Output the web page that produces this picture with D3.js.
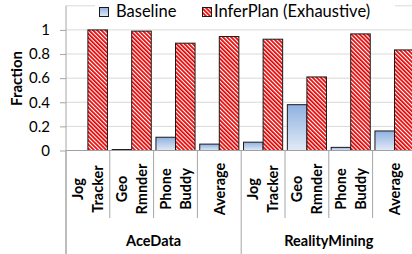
<!DOCTYPE html>
<html>
<head>
<meta charset="utf-8">
<script src="https://cdn.jsdelivr.net/npm/d3@7"></script>
<style>
  body { margin: 0; background: #fff; }
  svg { display: block; font-family: Lato, "Open Sans", sans-serif; }
</style>
</head>
<body>
<div id="chart"></div>
<script>
// data
const categories = [
    ['Jog', 'Tracker'], ['Geo', 'Rmnder'], ['Phone', 'Buddy'], ['Average'],
    ['Jog', 'Tracker'], ['Geo', 'Rmnder'], ['Phone', 'Buddy'], ['Average']
]
const groups = ['AceData', 'RealityMining']
const seriesNames = ['Baseline', 'InferPlan (Exhaustive)']
const baseline = [0, 0.008, 0.11, 0.053, 0.069, 0.38, 0.026, 0.162]
const inferplan = [1.0, 0.99, 0.89, 0.945, 0.923, 0.61, 0.967, 0.834]
const yTicks = [0, 0.2, 0.4, 0.6, 0.8, 1]

const width = 412
const height = 254

const svg = d3.select('#chart').append('svg')
    .attr('width', width).attr('height', height)

const defs = svg.append('defs')
const grad = defs.append('linearGradient').attr('id', 'blueGrad')
    .attr('x1', 0).attr('y1', 0).attr('x2', 0).attr('y2', 1)
grad.append('stop').attr('offset', '0%').attr('stop-color', '#8fb1e0')
grad.append('stop').attr('offset', '100%').attr('stop-color', '#e2eaf7')

const pat = defs.append('pattern').attr('id', 'hatch')
    .attr('patternUnits', 'userSpaceOnUse')
    .attr('width', 2.9).attr('height', 2.9)
    .attr('patternTransform', 'rotate(-45)')
pat.append('rect').attr('width', 2.9).attr('height', 2.9).attr('fill', '#fff')
pat.append('rect').attr('width', 1.75).attr('height', 2.9).attr('fill', '#e60000')

const plotLeft = 66
const x = d3.scaleBand()
    .domain(d3.range(categories.length))
    .range([plotLeft, plotLeft + 43.8 * categories.length])
const xs = d3.scaleBand()
    .domain(seriesNames)
    .range([0, x.bandwidth()])
    .paddingOuter(0.12)
const y = d3.scaleLinear().domain([0, 1.2]).range([150.5, 5.8])

// gridlines
svg.append('g').selectAll('line').data(yTicks.concat([1.2]).filter(d => d > 0))
    .enter().append('line')
    .attr('x1', plotLeft).attr('x2', width)
    .attr('y1', d => y(d)).attr('y2', d => y(d))
    .attr('stroke', '#d9d9d9').attr('stroke-width', 1)

// y axis
const yAxis = svg.append('g').attr('transform', `translate(${plotLeft},0)`)
    .call(d3.axisLeft(y).tickValues(yTicks).tickSize(6).tickPadding(10).tickFormat(d3.format('')))
yAxis.select('.domain').remove()
yAxis.selectAll('line').attr('stroke', '#a6a6a6')
yAxis.selectAll('text').attr('font-size', 15).attr('fill', '#000')
    .attr('font-family', 'Lato, "Open Sans", sans-serif')
svg.append('line')
    .attr('x1', plotLeft).attr('x2', plotLeft)
    .attr('y1', y(1.2)).attr('y2', height)
    .attr('stroke', '#a6a6a6')

// bars
const bars = svg.append('g')
categories.forEach((c, i) => {
    const vals = [baseline[i], inferplan[i]]
    vals.forEach((v, j) => {
        if (v <= 0) return
        bars.append('rect')
            .attr('x', x(i) + xs(seriesNames[j]))
            .attr('y', y(v))
            .attr('width', xs.bandwidth())
            .attr('height', y(0) - y(v))
            .attr('fill', j === 0 ? 'url(#blueGrad)' : 'url(#hatch)')
            .attr('stroke', '#1a1a1a').attr('stroke-width', 1)
    })
})

// zero line
svg.append('line')
    .attr('x1', plotLeft).attr('x2', width)
    .attr('y1', y(0)).attr('y2', y(0))
    .attr('stroke', '#a0a0a0')

// category separators
const seps = svg.append('g')
d3.range(categories.length + 1).forEach(i => {
    const xx = plotLeft + x.step() * i
    const big = i % 4 === 0
    seps.append('line')
        .attr('x1', xx).attr('x2', xx)
        .attr('y1', y(0)).attr('y2', big ? height : 218)
        .attr('stroke', '#a6a6a6')
})

// category labels
categories.forEach((c, i) => {
    const cx = x(i) + x.bandwidth() / 2
    const g = svg.append('g').attr('transform', `translate(${cx},189) rotate(-90)`)
    c.forEach((line, k) => {
        g.append('text')
            .attr('x', 0)
            .attr('y', (k - (c.length - 1) / 2) * 20)
            .attr('dy', '0.36em')
            .attr('text-anchor', 'middle')
            .attr('font-size', 14.5).attr('font-weight', 'bold')
            .text(line)
    })
})

// group labels
groups.forEach((gname, gi) => {
    const x0 = plotLeft + x.step() * 4 * gi
    svg.append('text')
        .attr('x', x0 + x.step() * 2)
        .attr('y', 246)
        .attr('text-anchor', 'middle')
        .attr('font-size', 14.5).attr('font-weight', 'bold')
        .text(gname)
})

// y label
svg.append('text')
    .attr('transform', 'translate(22,78.5) rotate(-90)')
    .attr('text-anchor', 'middle')
    .attr('font-size', 15).attr('font-weight', 'bold')
    .text('Fraction')

// legend
const legend = svg.append('g')
legend.append('rect').attr('x', 95).attr('y', 0).attr('width', 300).attr('height', 22).attr('fill', '#fff')
const legendItems = [
    { name: seriesNames[0], sx: 99.5, tx: 116, fill: 'url(#blueGrad)' },
    { name: seriesNames[1], sx: 202.5, tx: 214, fill: 'url(#hatch)' }
]
legendItems.forEach(d => {
    legend.append('rect')
        .attr('x', d.sx).attr('y', 7.5).attr('width', 9).attr('height', 9)
        .attr('fill', d.fill).attr('stroke', '#1a1a1a')
    legend.append('text')
        .attr('x', d.tx).attr('y', 17)
        .attr('font-size', 16.5)
        .text(d.name)
})
</script>
</body>
</html>
